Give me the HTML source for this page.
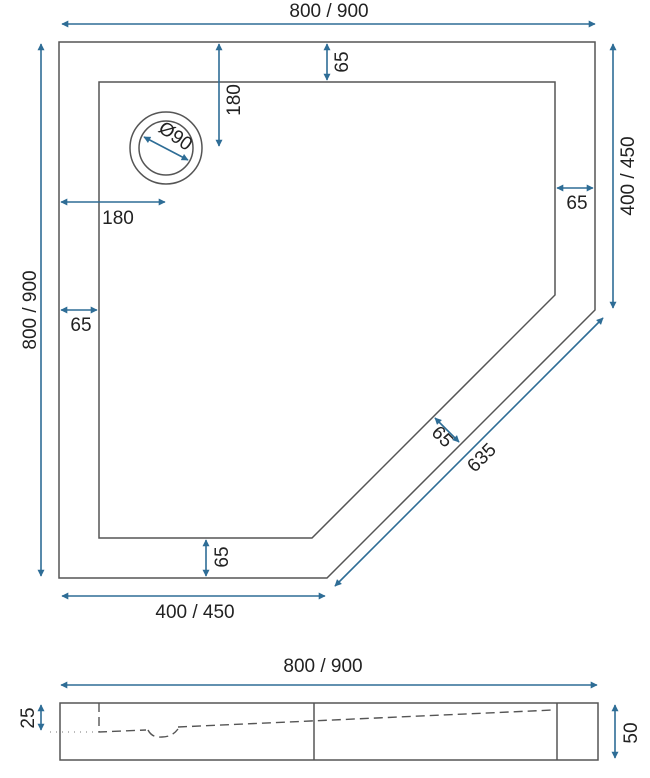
<!DOCTYPE html>
<html><head><meta charset="utf-8"><style>
html,body{margin:0;padding:0;background:#fff;width:650px;height:778px;overflow:hidden}
svg{display:block}
text{font-family:"Liberation Sans",sans-serif;font-size:19px;fill:#222}
</style></head><body>
<svg width="650" height="778" viewBox="0 0 650 778" xmlns="http://www.w3.org/2000/svg">
<defs>
<marker id="a" viewBox="0 0 10 10" refX="9" refY="5" markerWidth="9" markerHeight="7" orient="auto-start-reverse" markerUnits="userSpaceOnUse"><path d="M0,0 L10,5 L0,10 z" fill="#2e6d96"/></marker>
</defs>
<g fill="none" stroke="#555" stroke-width="1.5">
<path d="M59,42 H595 V310 L327,578 H59 Z"/>
<path d="M99,82 H555 V295 L312,538 H99 Z"/>
<circle cx="166" cy="148" r="36"/>
<circle cx="166" cy="148" r="27"/>
<rect x="60" y="703" width="538" height="57"/>
<line x1="314" y1="703" x2="314" y2="760"/>
<line x1="557" y1="703" x2="557" y2="760"/>
</g>
<g fill="none" stroke="#555" stroke-width="1.4" stroke-dasharray="9,5">
<path d="M99,703 V732 L146,730"/>
<path d="M178,727 L553,710"/>
<path d="M148,730 q4,8 14,7 q10,0 16,-8"/>
</g>
<line x1="50" y1="732" x2="97" y2="732" stroke="#777" stroke-width="1" stroke-dasharray="1,5"/>
<g stroke="#2e6d96" stroke-width="1.6" marker-start="url(#a)" marker-end="url(#a)">
<line x1="62" y1="24" x2="595" y2="24"/>
<line x1="41" y1="44" x2="41" y2="576"/>
<line x1="219" y1="44" x2="219" y2="146"/>
<line x1="327" y1="44" x2="327" y2="80"/>
<line x1="61" y1="202" x2="165" y2="202"/>
<line x1="144" y1="137" x2="188" y2="160"/>
<line x1="557" y1="188" x2="593" y2="188"/>
<line x1="613" y1="44" x2="613" y2="308"/>
<line x1="61" y1="310" x2="97" y2="310"/>
<line x1="206" y1="540" x2="206" y2="576"/>
<line x1="62" y1="596" x2="325" y2="596"/>
<line x1="335" y1="586" x2="603" y2="318"/>
<line x1="435" y1="418" x2="459" y2="442"/>
<line x1="61" y1="685" x2="597" y2="685"/>
<line x1="41" y1="705" x2="41" y2="730"/>
<line x1="615" y1="705" x2="615" y2="758"/>
</g>
<text x="329" y="17" text-anchor="middle" font-size="20">800 / 900</text>
<text x="118" y="224" text-anchor="middle" font-size="19">180</text>
<text x="81" y="331" text-anchor="middle" font-size="19">65</text>
<text x="577" y="209" text-anchor="middle" font-size="19">65</text>
<text x="195" y="618" text-anchor="middle" font-size="20">400 / 450</text>
<text x="323" y="672" text-anchor="middle" font-size="20">800 / 900</text>
<text transform="translate(240,100) rotate(-90)" text-anchor="middle" font-size="19">180</text>
<text transform="translate(348,62) rotate(-90)" text-anchor="middle" font-size="19">65</text>
<text transform="translate(228,557) rotate(-90)" text-anchor="middle" font-size="19">65</text>
<text transform="translate(36,310) rotate(-90)" text-anchor="middle" font-size="20">800 / 900</text>
<text transform="translate(634,176) rotate(-90)" text-anchor="middle" font-size="20">400 / 450</text>
<text transform="translate(34,718) rotate(-90)" text-anchor="middle" font-size="19">25</text>
<text transform="translate(637,733) rotate(-90)" text-anchor="middle" font-size="19">50</text>
<text transform="translate(172,141) rotate(35)" text-anchor="middle" font-size="19">Ø90</text>
<text transform="translate(438,441) rotate(45)" text-anchor="middle" font-size="19">65</text>
<text transform="translate(486,462) rotate(-45)" text-anchor="middle" font-size="20">635</text>
</svg>
</body></html>
